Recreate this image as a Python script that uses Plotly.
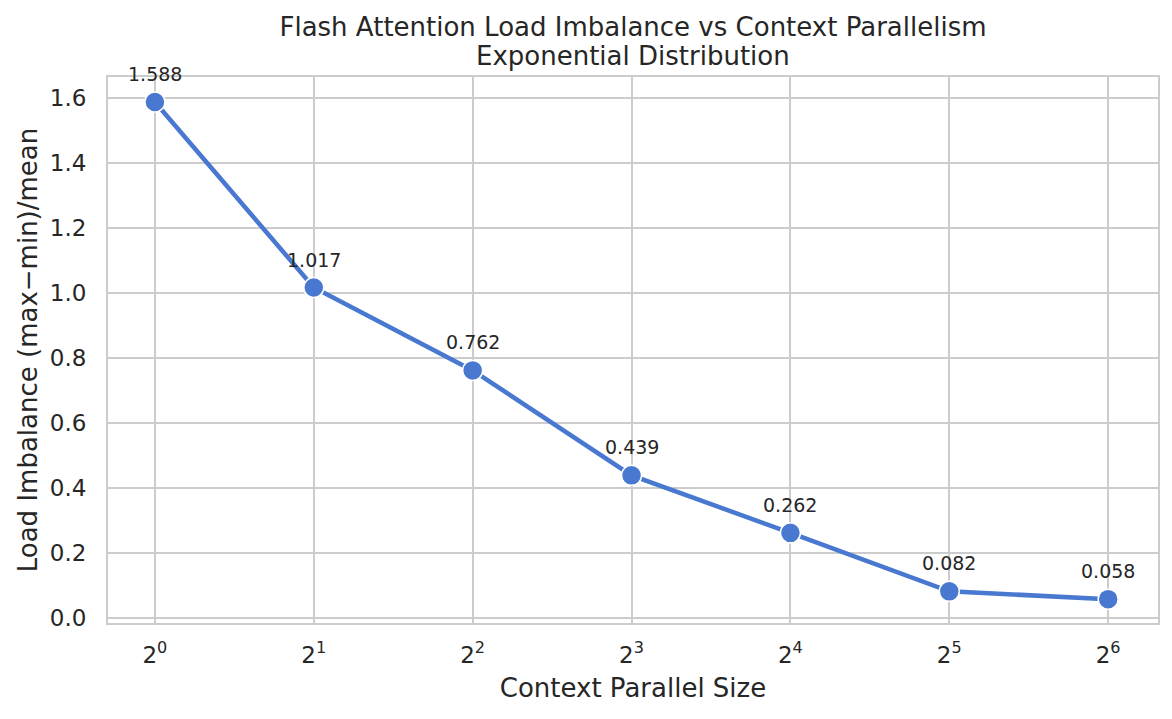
import math
import plotly.graph_objects as go

# datos del grafico
cp_size = [1, 2, 4, 8, 16, 32, 64]
imbalance = [1.588, 1.017, 0.762, 0.439, 0.262, 0.082, 0.058]
tick_text = ["2<sup>0</sup>", "2<sup>1</sup>", "2<sup>2</sup>", "2<sup>3</sup>",
             "2<sup>4</sup>", "2<sup>5</sup>", "2<sup>6</sup>"]
y_ticks = [0.0, 0.2, 0.4, 0.6, 0.8, 1.0, 1.2, 1.4, 1.6]
titulo = "Flash Attention Load Imbalance vs Context Parallelism"
subtitulo = "Exponential Distribution"

azul = "#4878d0"
gris = "#cccccc"
texto = "#262626"

fig = go.Figure()
fig.add_trace(go.Scatter(
    x=cp_size, y=imbalance, mode="lines+markers",
    line=dict(color=azul, width=4.5),
    marker=dict(size=20, color=azul, line=dict(color="white", width=1.5)),
    showlegend=False,
))

# etiquetas de valor encima de cada punto (eje log -> x en log10)
for xv, yv in zip(cp_size, imbalance):
    fig.add_annotation(x=math.log10(xv), y=yv, text=f"{yv:.3f}", showarrow=False,
                       yshift=28, font=dict(size=19, color=texto))

# segunda linea del titulo
fig.add_annotation(xref="paper", yref="paper", x=0.5, y=1.0385, yanchor="middle",
                   text=subtitulo, showarrow=False, font=dict(size=26, color=texto))

fig.update_layout(
    width=1156, height=703,
    paper_bgcolor="white", plot_bgcolor="white",
    font=dict(family="DejaVu Sans", color=texto),
    title=dict(text=titulo,
               xref="paper", x=0.5, xanchor="center", yref="container", y=0.973, yanchor="middle",
               font=dict(size=26, color=texto)),
    margin=dict(l=100, r=4, t=69, b=88),
)
fig.update_xaxes(
    type="log", range=[-0.0889, 1.9006],
    tickvals=cp_size, ticktext=tick_text,
    title=dict(text="Context Parallel Size", font=dict(size=26), standoff=12),
    tickfont=dict(size=23), ticks="", ticklabelstandoff=10,
    showgrid=True, gridcolor=gris, gridwidth=1.5,
    showline=True, linecolor=gris, linewidth=2, mirror=True, zeroline=False,
)
fig.update_yaxes(
    range=[-0.0154, 1.665], tickvals=y_ticks,
    tickformat=".1f",
    title=dict(text="Load Imbalance (max\u2212min)/mean", font=dict(size=26), standoff=5),
    tickfont=dict(size=23), ticks="", ticklabelstandoff=15,
    showgrid=True, gridcolor=gris, gridwidth=1.5,
    showline=True, linecolor=gris, linewidth=2, mirror=True, zeroline=False,
)

fig.write_html("out.html")
